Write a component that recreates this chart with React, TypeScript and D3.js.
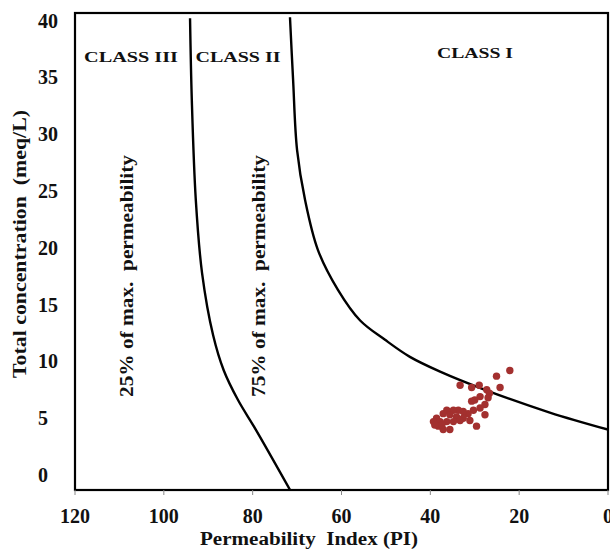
import * as d3 from 'd3'

// Doneen permeability index diagram
const yTicks = [0, 5, 10, 15, 20, 25, 30, 35, 40]
const xTicks = [120, 100, 80, 60, 40, 20, 0]

// 25% of max. permeability boundary [PI, total concentration]
const line25: [number, number][] = [
  [94.1, 40.2], [93.7, 33.0], [92.8, 24.2], [91.4, 17.8], [88.9, 12.3],
  [86.5, 9.2], [83.3, 6.6], [79.3, 4.0], [71.6, -1.3],
]

// 75% of max. permeability boundary
const line75: [number, number][] = [
  [71.6, 40.3], [70.9, 34.8], [70.0, 28.6], [68.2, 24.2], [65.3, 19.8],
  [60.8, 16.3], [55.8, 13.6], [50.2, 11.9], [44.6, 10.4], [37.8, 9.1],
  [27.7, 7.5], [13.1, 5.5], [0, 4.0],
]

// samples
const samplePI = [
  22.1, 25.1, 24.3, 29.0, 33.3, 30.7, 27.3, 26.7, 27.0, 28.8, 30.0, 30.7, 27.7,
  28.8, 30.3, 27.7, 31.5, 32.6, 33.7, 34.8, 36.3, 37.1, 35.6, 34.1, 32.6, 31.1,
  38.6, 39.3, 37.8, 36.3, 34.8, 38.2, 37.1, 35.6, 29.6, 39.0, 37.4, 33.3,
]
const sampleTC = [
  9.2, 8.7, 7.7, 7.9, 7.9, 7.7, 7.5, 7.2, 6.8, 6.9, 6.6, 6.5, 6.2,
  5.9, 5.7, 5.3, 5.4, 5.6, 5.7, 5.7, 5.7, 5.4, 5.3, 5.1, 5.0, 4.8,
  5.0, 4.7, 4.7, 4.7, 4.7, 4.3, 4.0, 4.0, 4.3, 4.4, 4.4, 4.8,
]

const width = 610
const height = 549
const left = 75
const right = 608
const top = 13
const bottom = 490
const font = '"Liberation Serif", "Times New Roman", serif'

export default function App() {
  const x = d3.scaleLinear().domain([120, 0]).range([left, right])
  const y = d3.scaleLinear().domain([-1.32, 40.67]).range([bottom, top])

  const line = d3
    .line<[number, number]>()
    .x((d) => x(d[0]))
    .y((d) => y(d[1]))
    .curve(d3.curveCatmullRom.alpha(0.5))

  return (
    <svg
      width={width}
      height={height}
      style={{ position: 'absolute', left: 0, top: 0, background: '#fff' }}
      fontFamily={font}
    >
      <defs>
        <clipPath id="plot-clip">
          <rect x={left} y={top} width={right - left} height={bottom - top} />
        </clipPath>
      </defs>

      {/* boundary curves */}
      <g clipPath="url(#plot-clip)" fill="none" stroke="#000" strokeWidth={2.4}>
        <path d={line(line25) || ''} />
        <path d={line(line75) || ''} />
      </g>

      {/* samples */}
      <g fill="#a3302f">
        {samplePI.map((pi, i) => (
          <circle key={i} cx={x(pi)} cy={y(sampleTC[i])} r={3.7} />
        ))}
      </g>

      {/* frame */}
      <rect
        x={left}
        y={top}
        width={right - left}
        height={bottom - top}
        fill="none"
        stroke="#000"
        strokeWidth={2.2}
      />

      {/* x axis */}
      {xTicks.map((t) => (
        <g key={t}>
          <line x1={x(t)} x2={x(t)} y1={bottom} y2={bottom + 5} stroke="#888" strokeWidth={1} />
          <text
            x={x(t)}
            y={bottom + 33}
            textAnchor="middle"
            fontSize={20}
            fontWeight="bold"
            fill="#111"
          >
            {t}
          </text>
        </g>
      ))}
      <text
        x={309}
        y={545}
        textAnchor="middle"
        fontSize={18}
        fontWeight="bold"
        fill="#111"
        textLength={218}
        lengthAdjust="spacingAndGlyphs"
        style={{ whiteSpace: 'pre' }}
      >
        {'Permeability  Index (PI)'}
      </text>

      {/* y axis */}
      {yTicks.map((t) => (
        <text
          key={t}
          x={38}
          y={y(t)}
          dy="0.35em"
          textAnchor="start"
          fontSize={20}
          fontWeight="bold"
          fill="#111"
        >
          {t}
        </text>
      ))}
      <text
        transform="translate(26,244) rotate(-90)"
        textAnchor="middle"
        fontSize={18}
        fontWeight="bold"
        fill="#111"
        textLength={268}
        lengthAdjust="spacingAndGlyphs"
        style={{ whiteSpace: 'pre' }}
      >
        {'Total concentration  (meq/L)'}
      </text>

      {/* class labels */}
      <g fontSize={15.5} fontWeight="bold" fill="#111">
        <text x={131} y={62} textAnchor="middle" textLength={94} lengthAdjust="spacingAndGlyphs">
          CLASS III
        </text>
        <text x={238} y={62} textAnchor="middle" textLength={85} lengthAdjust="spacingAndGlyphs">
          CLASS II
        </text>
        <text x={475} y={58} textAnchor="middle" textLength={76} lengthAdjust="spacingAndGlyphs">
          CLASS I
        </text>
      </g>

      {/* permeability zone labels */}
      <g fontSize={18} fontWeight="bold" fill="#111">
        <text
          transform="translate(133,276) rotate(-90)"
          textAnchor="middle"
          textLength={242}
          lengthAdjust="spacingAndGlyphs"
          style={{ whiteSpace: 'pre' }}
        >
          {'25% of max.  permeability'}
        </text>
        <text
          transform="translate(265,276) rotate(-90)"
          textAnchor="middle"
          textLength={242}
          lengthAdjust="spacingAndGlyphs"
          style={{ whiteSpace: 'pre' }}
        >
          {'75% of max.  permeability'}
        </text>
      </g>
    </svg>
  )
}
